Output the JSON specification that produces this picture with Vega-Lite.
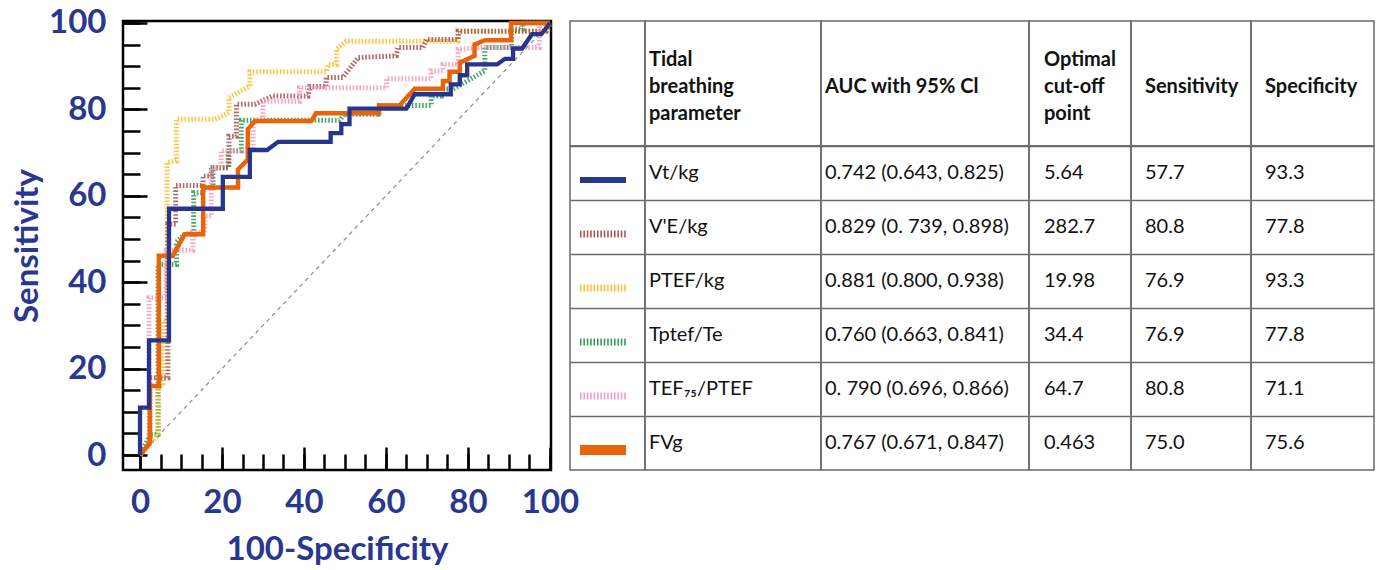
{
"$schema": "https://vega.github.io/schema/vega-lite/v6.json",
"background": "white",
"padding": {"left": 10, "top": 5, "right": 5, "bottom": 5},
"bounds": "flush",
"spacing": 19,
"config": {"font": "Lato", "view": {"stroke": "#6b6b6b", "strokeWidth": 1.5}},
"datasets": {
"diag": [{"x": 0, "y": 0}, {"x": 100, "y": 100}],
"headers": [
{"col": "sample", "text": ""},
{"col": "label", "text": "Tidal\nbreathing\nparameter"},
{"col": "auc", "text": "AUC with 95% Cl"},
{"col": "cutoff", "text": "Optimal\ncut-off\npoint"},
{"col": "sens", "text": "Sensitivity"},
{"col": "spec", "text": "Specificity"}
],
"table": [
{"param": "Vt/kg", "label": "Vt/kg", "auc": "0.742 (0.643, 0.825)", "cutoff": "5.64", "sens": "57.7", "spec": "93.3"},
{"param": "V'E/kg", "label": "V'E/kg", "auc": "0.829 (0. 739, 0.898)", "cutoff": "282.7", "sens": "80.8", "spec": "77.8"},
{"param": "PTEF/kg", "label": "PTEF/kg", "auc": "0.881 (0.800, 0.938)", "cutoff": "19.98", "sens": "76.9", "spec": "93.3"},
{"param": "Tptef/Te", "label": "Tptef/Te", "auc": "0.760 (0.663, 0.841)", "cutoff": "34.4", "sens": "76.9", "spec": "77.8"},
{"param": "TEF75/PTEF", "label": "TEF₇₅/PTEF", "auc": "0. 790 (0.696, 0.866)", "cutoff": "64.7", "sens": "80.8", "spec": "71.1"},
{"param": "FVg", "label": "FVg", "auc": "0.767 (0.671, 0.847)", "cutoff": "0.463", "sens": "75.0", "spec": "75.6"}
],
"roc": [
{"param":"Vt/kg","seq":0,"x":0,"y":0},{"param":"Vt/kg","seq":1,"x":0,"y":10.95},{"param":"Vt/kg","seq":2,"x":2.2,"y":10.95},{"param":"Vt/kg","seq":3,"x":2.2,"y":26.55},{"param":"Vt/kg","seq":4,"x":7.07,"y":26.55},{"param":"Vt/kg","seq":5,"x":7.07,"y":57},{"param":"Vt/kg","seq":6,"x":20.2,"y":57},{"param":"Vt/kg","seq":7,"x":20.2,"y":64.4},{"param":"Vt/kg","seq":8,"x":26.8,"y":64.4},{"param":"Vt/kg","seq":9,"x":26.8,"y":70.6},{"param":"Vt/kg","seq":10,"x":31,"y":70.6},{"param":"Vt/kg","seq":11,"x":33.7,"y":72.5},{"param":"Vt/kg","seq":12,"x":46.5,"y":72.5},{"param":"Vt/kg","seq":13,"x":46.5,"y":74.5},{"param":"Vt/kg","seq":14,"x":49.1,"y":74.5},{"param":"Vt/kg","seq":15,"x":49.1,"y":76.6},{"param":"Vt/kg","seq":16,"x":51.1,"y":76.6},{"param":"Vt/kg","seq":17,"x":51.1,"y":80.2},{"param":"Vt/kg","seq":18,"x":65,"y":80.2},{"param":"Vt/kg","seq":19,"x":67,"y":83.5},{"param":"Vt/kg","seq":20,"x":75.8,"y":83.5},{"param":"Vt/kg","seq":21,"x":75.8,"y":85.8},{"param":"Vt/kg","seq":22,"x":78,"y":85.8},{"param":"Vt/kg","seq":23,"x":78,"y":87.9},{"param":"Vt/kg","seq":24,"x":79.8,"y":87.9},{"param":"Vt/kg","seq":25,"x":79.8,"y":90.4},{"param":"Vt/kg","seq":26,"x":87.1,"y":90.4},{"param":"Vt/kg","seq":27,"x":89,"y":91.7},{"param":"Vt/kg","seq":28,"x":91,"y":91.7},{"param":"Vt/kg","seq":29,"x":91,"y":94.1},{"param":"Vt/kg","seq":30,"x":93.2,"y":94.1},{"param":"Vt/kg","seq":31,"x":95.6,"y":97.4},{"param":"Vt/kg","seq":32,"x":97.9,"y":97.4},{"param":"Vt/kg","seq":33,"x":100,"y":100},
{"param":"FVg","seq":0,"x":0,"y":0},{"param":"FVg","seq":1,"x":2.4,"y":2.8},{"param":"FVg","seq":2,"x":2.4,"y":16},{"param":"FVg","seq":3,"x":4.6,"y":16},{"param":"FVg","seq":4,"x":4.6,"y":46.1},{"param":"FVg","seq":5,"x":8,"y":46.1},{"param":"FVg","seq":6,"x":10.9,"y":51.1},{"param":"FVg","seq":7,"x":15.4,"y":51.1},{"param":"FVg","seq":8,"x":15.4,"y":61.9},{"param":"FVg","seq":9,"x":23.9,"y":61.9},{"param":"FVg","seq":10,"x":23.9,"y":66.1},{"param":"FVg","seq":11,"x":26.3,"y":68.4},{"param":"FVg","seq":12,"x":26.3,"y":75.4},{"param":"FVg","seq":13,"x":28,"y":77.3},{"param":"FVg","seq":14,"x":41.8,"y":77.3},{"param":"FVg","seq":15,"x":42.9,"y":79.1},{"param":"FVg","seq":16,"x":58.3,"y":79.1},{"param":"FVg","seq":17,"x":58.3,"y":80.9},{"param":"FVg","seq":18,"x":63.3,"y":80.9},{"param":"FVg","seq":19,"x":67,"y":84.8},{"param":"FVg","seq":20,"x":73.9,"y":84.8},{"param":"FVg","seq":21,"x":73.9,"y":86.6},{"param":"FVg","seq":22,"x":75.5,"y":86.6},{"param":"FVg","seq":23,"x":75.5,"y":88.7},{"param":"FVg","seq":24,"x":78,"y":88.7},{"param":"FVg","seq":25,"x":78,"y":90.8},{"param":"FVg","seq":26,"x":81.6,"y":92.4},{"param":"FVg","seq":27,"x":81.6,"y":95},{"param":"FVg","seq":28,"x":84.1,"y":96},{"param":"FVg","seq":29,"x":90.5,"y":96},{"param":"FVg","seq":30,"x":90.5,"y":100},{"param":"FVg","seq":31,"x":100,"y":100},
{"param":"Tptef/Te","seq":0,"x":0,"y":0},{"param":"Tptef/Te","seq":1,"x":2.6,"y":4.8},{"param":"Tptef/Te","seq":2,"x":4.4,"y":4.8},{"param":"Tptef/Te","seq":3,"x":4.4,"y":44.1},{"param":"Tptef/Te","seq":4,"x":8.9,"y":44.1},{"param":"Tptef/Te","seq":5,"x":8.9,"y":49.3},{"param":"Tptef/Te","seq":6,"x":11,"y":51.2},{"param":"Tptef/Te","seq":7,"x":13.1,"y":51.2},{"param":"Tptef/Te","seq":8,"x":13.1,"y":60.7},{"param":"Tptef/Te","seq":9,"x":15.4,"y":60.7},{"param":"Tptef/Te","seq":10,"x":15.4,"y":61.9},{"param":"Tptef/Te","seq":11,"x":17.8,"y":61.9},{"param":"Tptef/Te","seq":12,"x":17.8,"y":66.5},{"param":"Tptef/Te","seq":13,"x":21.5,"y":66.5},{"param":"Tptef/Te","seq":14,"x":21.5,"y":70.4},{"param":"Tptef/Te","seq":15,"x":24.7,"y":70.4},{"param":"Tptef/Te","seq":16,"x":24.7,"y":77.5},{"param":"Tptef/Te","seq":17,"x":48.7,"y":77.5},{"param":"Tptef/Te","seq":18,"x":49.9,"y":78.9},{"param":"Tptef/Te","seq":19,"x":58,"y":78.9},{"param":"Tptef/Te","seq":20,"x":58,"y":80.9},{"param":"Tptef/Te","seq":21,"x":71,"y":80.9},{"param":"Tptef/Te","seq":22,"x":71,"y":83.1},{"param":"Tptef/Te","seq":23,"x":73.5,"y":83.1},{"param":"Tptef/Te","seq":24,"x":73.5,"y":84.7},{"param":"Tptef/Te","seq":25,"x":76.3,"y":84.7},{"param":"Tptef/Te","seq":26,"x":84.1,"y":88.9},{"param":"Tptef/Te","seq":27,"x":84.1,"y":94.3},{"param":"Tptef/Te","seq":28,"x":90.6,"y":94.3},{"param":"Tptef/Te","seq":29,"x":90.6,"y":98.6},{"param":"Tptef/Te","seq":30,"x":93.4,"y":98.6},{"param":"Tptef/Te","seq":31,"x":93.4,"y":100},{"param":"Tptef/Te","seq":32,"x":100,"y":100},
{"param":"PTEF/kg","seq":0,"x":0,"y":0},{"param":"PTEF/kg","seq":1,"x":4.5,"y":4.8},{"param":"PTEF/kg","seq":2,"x":4.5,"y":16},{"param":"PTEF/kg","seq":3,"x":5.6,"y":16},{"param":"PTEF/kg","seq":4,"x":5.6,"y":31},{"param":"PTEF/kg","seq":5,"x":6.6,"y":31},{"param":"PTEF/kg","seq":6,"x":6.6,"y":67.7},{"param":"PTEF/kg","seq":7,"x":8.9,"y":68.1},{"param":"PTEF/kg","seq":8,"x":8.9,"y":77.7},{"param":"PTEF/kg","seq":9,"x":18.2,"y":77.7},{"param":"PTEF/kg","seq":10,"x":21.7,"y":79.2},{"param":"PTEF/kg","seq":11,"x":21.7,"y":82.7},{"param":"PTEF/kg","seq":12,"x":26.8,"y":85.4},{"param":"PTEF/kg","seq":13,"x":26.8,"y":88.7},{"param":"PTEF/kg","seq":14,"x":45.4,"y":88.7},{"param":"PTEF/kg","seq":15,"x":45.9,"y":90.4},{"param":"PTEF/kg","seq":16,"x":47.9,"y":90.4},{"param":"PTEF/kg","seq":17,"x":47.9,"y":93.9},{"param":"PTEF/kg","seq":18,"x":50.3,"y":95.8},{"param":"PTEF/kg","seq":19,"x":77.6,"y":95.8},{"param":"PTEF/kg","seq":20,"x":77.6,"y":98.1},{"param":"PTEF/kg","seq":21,"x":99.3,"y":98.1},{"param":"PTEF/kg","seq":22,"x":100,"y":100},
{"param":"V'E/kg","seq":0,"x":0,"y":0},{"param":"V'E/kg","seq":1,"x":2.4,"y":2.8},{"param":"V'E/kg","seq":2,"x":2.4,"y":17.9},{"param":"V'E/kg","seq":3,"x":6.8,"y":17.9},{"param":"V'E/kg","seq":4,"x":6.8,"y":53.4},{"param":"V'E/kg","seq":5,"x":8.7,"y":53.4},{"param":"V'E/kg","seq":6,"x":8.7,"y":62.4},{"param":"V'E/kg","seq":7,"x":15.4,"y":62.4},{"param":"V'E/kg","seq":8,"x":15.4,"y":64.6},{"param":"V'E/kg","seq":9,"x":17.4,"y":64.6},{"param":"V'E/kg","seq":10,"x":17.4,"y":66.5},{"param":"V'E/kg","seq":11,"x":21.7,"y":66.5},{"param":"V'E/kg","seq":12,"x":21.7,"y":73.8},{"param":"V'E/kg","seq":13,"x":23.5,"y":73.8},{"param":"V'E/kg","seq":14,"x":23.5,"y":81.2},{"param":"V'E/kg","seq":15,"x":28,"y":81.2},{"param":"V'E/kg","seq":16,"x":32.4,"y":83.1},{"param":"V'E/kg","seq":17,"x":41,"y":83.1},{"param":"V'E/kg","seq":18,"x":41.4,"y":85.3},{"param":"V'E/kg","seq":19,"x":45.4,"y":85.3},{"param":"V'E/kg","seq":20,"x":45.4,"y":87.4},{"param":"V'E/kg","seq":21,"x":49.5,"y":87.4},{"param":"V'E/kg","seq":22,"x":53.2,"y":92},{"param":"V'E/kg","seq":23,"x":62.5,"y":92.4},{"param":"V'E/kg","seq":24,"x":62.9,"y":94.3},{"param":"V'E/kg","seq":25,"x":69,"y":94.3},{"param":"V'E/kg","seq":26,"x":69.9,"y":96.2},{"param":"V'E/kg","seq":27,"x":77.6,"y":96.2},{"param":"V'E/kg","seq":28,"x":77.6,"y":98.1},{"param":"V'E/kg","seq":29,"x":99,"y":98.1},{"param":"V'E/kg","seq":30,"x":100,"y":100},
{"param":"TEF75/PTEF","seq":0,"x":0,"y":0},{"param":"TEF75/PTEF","seq":1,"x":2.2,"y":2.3},{"param":"TEF75/PTEF","seq":2,"x":2.2,"y":36.4},{"param":"TEF75/PTEF","seq":3,"x":6.4,"y":36.4},{"param":"TEF75/PTEF","seq":4,"x":6.4,"y":47.4},{"param":"TEF75/PTEF","seq":5,"x":12.9,"y":47.4},{"param":"TEF75/PTEF","seq":6,"x":12.9,"y":51.5},{"param":"TEF75/PTEF","seq":7,"x":15.8,"y":51.5},{"param":"TEF75/PTEF","seq":8,"x":15.8,"y":55.3},{"param":"TEF75/PTEF","seq":9,"x":17.4,"y":55.3},{"param":"TEF75/PTEF","seq":10,"x":17.4,"y":66.5},{"param":"TEF75/PTEF","seq":11,"x":19.8,"y":66.5},{"param":"TEF75/PTEF","seq":12,"x":19.8,"y":70.4},{"param":"TEF75/PTEF","seq":13,"x":25.1,"y":70.4},{"param":"TEF75/PTEF","seq":14,"x":27.6,"y":71.1},{"param":"TEF75/PTEF","seq":15,"x":27.6,"y":76.9},{"param":"TEF75/PTEF","seq":16,"x":30,"y":78.1},{"param":"TEF75/PTEF","seq":17,"x":30,"y":81.9},{"param":"TEF75/PTEF","seq":18,"x":38.9,"y":81.9},{"param":"TEF75/PTEF","seq":19,"x":38.9,"y":85},{"param":"TEF75/PTEF","seq":20,"x":60.1,"y":85},{"param":"TEF75/PTEF","seq":21,"x":60.1,"y":87.1},{"param":"TEF75/PTEF","seq":22,"x":71,"y":87.1},{"param":"TEF75/PTEF","seq":23,"x":71,"y":88.9},{"param":"TEF75/PTEF","seq":24,"x":73.9,"y":88.9},{"param":"TEF75/PTEF","seq":25,"x":73.9,"y":90.4},{"param":"TEF75/PTEF","seq":26,"x":77.6,"y":90.4},{"param":"TEF75/PTEF","seq":27,"x":77.6,"y":93.9},{"param":"TEF75/PTEF","seq":28,"x":83.7,"y":94.3},{"param":"TEF75/PTEF","seq":29,"x":97.4,"y":94.3},{"param":"TEF75/PTEF","seq":30,"x":97.4,"y":99.5},{"param":"TEF75/PTEF","seq":31,"x":100,"y":100}
]
},
"hconcat": [
{
"width": 428, "height": 449,
"view": {"stroke": "black", "strokeWidth": 2.5},
"resolve": {"axis": {"x": "independent", "y": "independent"}},
"layer": [
{
"data": {"name": "diag"},
"mark": {"type": "line", "color": "#8c8c8c", "strokeWidth": 1.2, "strokeDash": [4, 4]},
"encoding": {
"x": {"field": "x", "type": "quantitative", "scale": {"domain": [-4.15, 100.25], "nice": false, "zero": false},
"axis": {"orient": "bottom", "values": [0,5,10,15,20,25,30,35,40,45,50,55,60,65,70,75,80,85,90,95,100], "tickSize": 16, "offset": -16, "tickColor": "black", "tickWidth": 2.5, "labels": false, "domain": false, "grid": false, "title": null}},
"y": {"field": "y", "type": "quantitative", "scale": {"domain": [-3.47, 100.46], "nice": false, "zero": false},
"axis": {"orient": "left", "values": [0,5,10,15,20,25,30,35,40,45,50,55,60,65,70,75,80,85,90,95,100], "tickSize": 17, "offset": -17, "tickColor": "black", "tickWidth": 2.5, "labels": false, "domain": false, "grid": false, "title": null}}
}
},
{
"data": {"name": "roc"},
"transform": [{"filter": "datum.param !== 'Vt/kg' && datum.param !== 'FVg'"}],
"mark": {"type": "line", "strokeWidth": 5, "strokeDash": [1.6, 1.8], "opacity": 0.85, "strokeCap": "butt"},
"encoding": {
"x": {"field": "x", "type": "quantitative", "scale": {"domain": [-4.15, 100.25], "nice": false, "zero": false},
"axis": {"orient": "bottom", "values": [0,20,40,60,80,100], "tickSize": 23, "offset": -23, "tickColor": "black", "tickWidth": 2.5, "domain": false, "grid": false, "labelPadding": 16, "labelFont": "Lato", "labelFontWeight": "bold", "labelFontSize": 33, "labelColor": "#283891", "labelFlush": false, "labelOverlap": false, "title": "100-Specificity", "titleFont": "Lato", "titleFontWeight": "bold", "titleFontSize": 33, "titleColor": "#283891", "titlePadding": 14}},
"y": {"field": "y", "type": "quantitative", "scale": {"domain": [-3.47, 100.46], "nice": false, "zero": false},
"axis": {"orient": "left", "values": [0,20,40,60,80,100], "tickSize": 24, "offset": -24, "tickColor": "black", "tickWidth": 2.5, "domain": false, "grid": false, "labelPadding": 17, "labelFont": "Lato", "labelFontWeight": "bold", "labelFontSize": 33, "labelColor": "#283891", "labelFlush": false, "labelOverlap": false, "title": "Sensitivity", "titleFont": "Lato", "titleFontWeight": "bold", "titleFontSize": 33, "titleColor": "#283891", "titlePadding": 4}},
"order": {"field": "seq", "type": "quantitative"},
"color": {"field": "param", "type": "nominal", "legend": null,
"scale": {"domain": ["Vt/kg","V'E/kg","PTEF/kg","Tptef/Te","TEF75/PTEF","FVg"], "range": ["#27358b","#a4504f","#fbbd2c","#2a9656","#f29ac2","#ea6309"]}}
}
},
{
"data": {"name": "roc"},
"transform": [{"filter": "datum.param === 'FVg'"}],
"mark": {"type": "line", "strokeWidth": 4.5, "color": "#ea6309"},
"encoding": {
"x": {"field": "x", "type": "quantitative", "scale": {"domain": [-4.15, 100.25], "nice": false, "zero": false}, "axis": null},
"y": {"field": "y", "type": "quantitative", "scale": {"domain": [-3.47, 100.46], "nice": false, "zero": false}, "axis": null},
"order": {"field": "seq", "type": "quantitative"}
}
},
{
"data": {"name": "roc"},
"transform": [{"filter": "datum.param === 'Vt/kg'"}],
"mark": {"type": "line", "strokeWidth": 4.3, "color": "#27358b"},
"encoding": {
"x": {"field": "x", "type": "quantitative", "scale": {"domain": [-4.15, 100.25], "nice": false, "zero": false}, "axis": null},
"y": {"field": "y", "type": "quantitative", "scale": {"domain": [-3.47, 100.46], "nice": false, "zero": false}, "axis": null},
"order": {"field": "seq", "type": "quantitative"}
}
}
]
},
{
"columns": 6,
"spacing": 0,
"bounds": "flush",
"concat": [
{"width": 75, "height": 125, "data": {"name": "headers"}, "transform": [{"filter": "datum.col === 'sample'"}],
"mark": {"type": "text", "align": "left", "baseline": "middle", "font": "Lato", "fontSize": 20, "color": "#111111"},
"encoding": {"x": {"field": "col", "type": "nominal", "bandPosition": 0, "axis": null, "scale": {"type": "band", "paddingInner": 0, "paddingOuter": 0}}, "text": {"field": "text", "type": "nominal"}}},
{"width": 176, "height": 125, "data": {"name": "headers"}, "transform": [{"filter": "datum.col === 'label'"}],
"mark": {"type": "text", "align": "left", "baseline": "middle", "dx": 4, "dy": -24, "font": "Lato", "fontSize": 20, "fontWeight": "bold", "lineBreak": "\n", "lineHeight": 27, "color": "#111111"},
"encoding": {"x": {"field": "col", "type": "nominal", "bandPosition": 0, "axis": null, "scale": {"type": "band", "paddingInner": 0, "paddingOuter": 0}}, "text": {"field": "text", "type": "nominal"}}},
{"width": 208, "height": 125, "data": {"name": "headers"}, "transform": [{"filter": "datum.col === 'auc'"}],
"mark": {"type": "text", "align": "left", "baseline": "middle", "dx": 4, "dy": 3, "font": "Lato", "fontSize": 20, "fontWeight": "bold", "lineBreak": "\n", "lineHeight": 27, "color": "#111111"},
"encoding": {"x": {"field": "col", "type": "nominal", "bandPosition": 0, "axis": null, "scale": {"type": "band", "paddingInner": 0, "paddingOuter": 0}}, "text": {"field": "text", "type": "nominal"}}},
{"width": 102, "height": 125, "data": {"name": "headers"}, "transform": [{"filter": "datum.col === 'cutoff'"}],
"mark": {"type": "text", "align": "left", "baseline": "middle", "dx": 15, "dy": -24, "font": "Lato", "fontSize": 20, "fontWeight": "bold", "lineBreak": "\n", "lineHeight": 27, "color": "#111111"},
"encoding": {"x": {"field": "col", "type": "nominal", "bandPosition": 0, "axis": null, "scale": {"type": "band", "paddingInner": 0, "paddingOuter": 0}}, "text": {"field": "text", "type": "nominal"}}},
{"width": 120, "height": 125, "data": {"name": "headers"}, "transform": [{"filter": "datum.col === 'sens'"}],
"mark": {"type": "text", "align": "left", "baseline": "middle", "dx": 14, "dy": 3, "font": "Lato", "fontSize": 20, "fontWeight": "bold", "lineBreak": "\n", "lineHeight": 27, "color": "#111111"},
"encoding": {"x": {"field": "col", "type": "nominal", "bandPosition": 0, "axis": null, "scale": {"type": "band", "paddingInner": 0, "paddingOuter": 0}}, "text": {"field": "text", "type": "nominal"}}},
{"width": 123, "height": 125, "data": {"name": "headers"}, "transform": [{"filter": "datum.col === 'spec'"}],
"mark": {"type": "text", "align": "left", "baseline": "middle", "dx": 14, "dy": 3, "font": "Lato", "fontSize": 20, "fontWeight": "bold", "lineBreak": "\n", "lineHeight": 27, "color": "#111111"},
"encoding": {"x": {"field": "col", "type": "nominal", "bandPosition": 0, "axis": null, "scale": {"type": "band", "paddingInner": 0, "paddingOuter": 0}}, "text": {"field": "text", "type": "nominal"}}},
{"width": 75, "height": 324, "data": {"name": "table"},
"layer": [
{"transform": [{"filter": "datum.param !== 'Vt/kg' && datum.param !== 'FVg'"}],
"mark": {"type": "rule", "strokeWidth": 7, "strokeDash": [1.5, 1.9], "strokeCap": "butt"},
"encoding": {
"y": {"field": "param", "type": "nominal", "bandPosition": 0.63, "scale": {"type": "band", "domain": ["Vt/kg","V'E/kg","PTEF/kg","Tptef/Te","TEF75/PTEF","FVg"], "paddingInner": 0, "paddingOuter": 0}, "axis": {"title": null, "labels": false, "ticks": false, "domain": false, "grid": true, "gridColor": "#6b6b6b", "gridWidth": 1.5, "bandPosition": 0}},
"x": {"datum": 0, "type": "quantitative", "scale": {"domain": [-0.2174, 1.413], "nice": false, "zero": false}, "axis": null},
"x2": {"datum": 1},
"color": {"field": "param", "type": "nominal", "legend": null, "scale": {"domain": ["Vt/kg","V'E/kg","PTEF/kg","Tptef/Te","TEF75/PTEF","FVg"], "range": ["#27358b","#a4504f","#fbbd2c","#2a9656","#f29ac2","#ea6309"]}}
}},
{"transform": [{"filter": "datum.param === 'Vt/kg'"}],
"mark": {"type": "rule", "strokeWidth": 6, "color": "#27358b", "strokeCap": "butt"},
"encoding": {
"y": {"field": "param", "type": "nominal", "bandPosition": 0.63, "scale": {"type": "band", "domain": ["Vt/kg","V'E/kg","PTEF/kg","Tptef/Te","TEF75/PTEF","FVg"], "paddingInner": 0, "paddingOuter": 0}, "axis": {"title": null, "labels": false, "ticks": false, "domain": false, "grid": true, "gridColor": "#6b6b6b", "gridWidth": 1.5, "bandPosition": 0}},
"x": {"datum": 0, "type": "quantitative", "scale": {"domain": [-0.2174, 1.413], "nice": false, "zero": false}, "axis": null},
"x2": {"datum": 1}
}},
{"transform": [{"filter": "datum.param === 'FVg'"}],
"mark": {"type": "rule", "strokeWidth": 10, "color": "#ea6309", "strokeCap": "butt"},
"encoding": {
"y": {"field": "param", "type": "nominal", "bandPosition": 0.63, "scale": {"type": "band", "domain": ["Vt/kg","V'E/kg","PTEF/kg","Tptef/Te","TEF75/PTEF","FVg"], "paddingInner": 0, "paddingOuter": 0}, "axis": {"title": null, "labels": false, "ticks": false, "domain": false, "grid": true, "gridColor": "#6b6b6b", "gridWidth": 1.5, "bandPosition": 0}},
"x": {"datum": 0, "type": "quantitative", "scale": {"domain": [-0.2174, 1.413], "nice": false, "zero": false}, "axis": null},
"x2": {"datum": 1}
}}
]},
{"width": 176, "height": 324, "data": {"name": "table"}, "transform": [{"fold": ["label"], "as": ["col", "text"]}],
"mark": {"type": "text", "align": "left", "baseline": "middle", "dx": 4, "font": "Lato", "fontSize": 20, "color": "#111111"},
"encoding": {"x": {"field": "col", "type": "nominal", "bandPosition": 0, "axis": null, "scale": {"type": "band", "paddingInner": 0, "paddingOuter": 0}},
"y": {"field": "param", "type": "nominal", "bandPosition": 0.5, "scale": {"type": "band", "domain": ["Vt/kg","V'E/kg","PTEF/kg","Tptef/Te","TEF75/PTEF","FVg"], "paddingInner": 0, "paddingOuter": 0}, "axis": {"title": null, "labels": false, "ticks": false, "domain": false, "grid": true, "gridColor": "#6b6b6b", "gridWidth": 1.5, "bandPosition": 0}},
"text": {"field": "text", "type": "nominal"}}},
{"width": 208, "height": 324, "data": {"name": "table"}, "transform": [{"fold": ["auc"], "as": ["col", "text"]}],
"mark": {"type": "text", "align": "left", "baseline": "middle", "dx": 4, "font": "Lato", "fontSize": 20, "color": "#111111"},
"encoding": {"x": {"field": "col", "type": "nominal", "bandPosition": 0, "axis": null, "scale": {"type": "band", "paddingInner": 0, "paddingOuter": 0}},
"y": {"field": "param", "type": "nominal", "bandPosition": 0.5, "scale": {"type": "band", "domain": ["Vt/kg","V'E/kg","PTEF/kg","Tptef/Te","TEF75/PTEF","FVg"], "paddingInner": 0, "paddingOuter": 0}, "axis": {"title": null, "labels": false, "ticks": false, "domain": false, "grid": true, "gridColor": "#6b6b6b", "gridWidth": 1.5, "bandPosition": 0}},
"text": {"field": "text", "type": "nominal"}}},
{"width": 102, "height": 324, "data": {"name": "table"}, "transform": [{"fold": ["cutoff"], "as": ["col", "text"]}],
"mark": {"type": "text", "align": "left", "baseline": "middle", "dx": 15, "font": "Lato", "fontSize": 20, "color": "#111111"},
"encoding": {"x": {"field": "col", "type": "nominal", "bandPosition": 0, "axis": null, "scale": {"type": "band", "paddingInner": 0, "paddingOuter": 0}},
"y": {"field": "param", "type": "nominal", "bandPosition": 0.5, "scale": {"type": "band", "domain": ["Vt/kg","V'E/kg","PTEF/kg","Tptef/Te","TEF75/PTEF","FVg"], "paddingInner": 0, "paddingOuter": 0}, "axis": {"title": null, "labels": false, "ticks": false, "domain": false, "grid": true, "gridColor": "#6b6b6b", "gridWidth": 1.5, "bandPosition": 0}},
"text": {"field": "text", "type": "nominal"}}},
{"width": 120, "height": 324, "data": {"name": "table"}, "transform": [{"fold": ["sens"], "as": ["col", "text"]}],
"mark": {"type": "text", "align": "left", "baseline": "middle", "dx": 14, "font": "Lato", "fontSize": 20, "color": "#111111"},
"encoding": {"x": {"field": "col", "type": "nominal", "bandPosition": 0, "axis": null, "scale": {"type": "band", "paddingInner": 0, "paddingOuter": 0}},
"y": {"field": "param", "type": "nominal", "bandPosition": 0.5, "scale": {"type": "band", "domain": ["Vt/kg","V'E/kg","PTEF/kg","Tptef/Te","TEF75/PTEF","FVg"], "paddingInner": 0, "paddingOuter": 0}, "axis": {"title": null, "labels": false, "ticks": false, "domain": false, "grid": true, "gridColor": "#6b6b6b", "gridWidth": 1.5, "bandPosition": 0}},
"text": {"field": "text", "type": "nominal"}}},
{"width": 123, "height": 324, "data": {"name": "table"}, "transform": [{"fold": ["spec"], "as": ["col", "text"]}],
"mark": {"type": "text", "align": "left", "baseline": "middle", "dx": 14, "font": "Lato", "fontSize": 20, "color": "#111111"},
"encoding": {"x": {"field": "col", "type": "nominal", "bandPosition": 0, "axis": null, "scale": {"type": "band", "paddingInner": 0, "paddingOuter": 0}},
"y": {"field": "param", "type": "nominal", "bandPosition": 0.5, "scale": {"type": "band", "domain": ["Vt/kg","V'E/kg","PTEF/kg","Tptef/Te","TEF75/PTEF","FVg"], "paddingInner": 0, "paddingOuter": 0}, "axis": {"title": null, "labels": false, "ticks": false, "domain": false, "grid": true, "gridColor": "#6b6b6b", "gridWidth": 1.5, "bandPosition": 0}},
"text": {"field": "text", "type": "nominal"}}}
]
}
]
}
